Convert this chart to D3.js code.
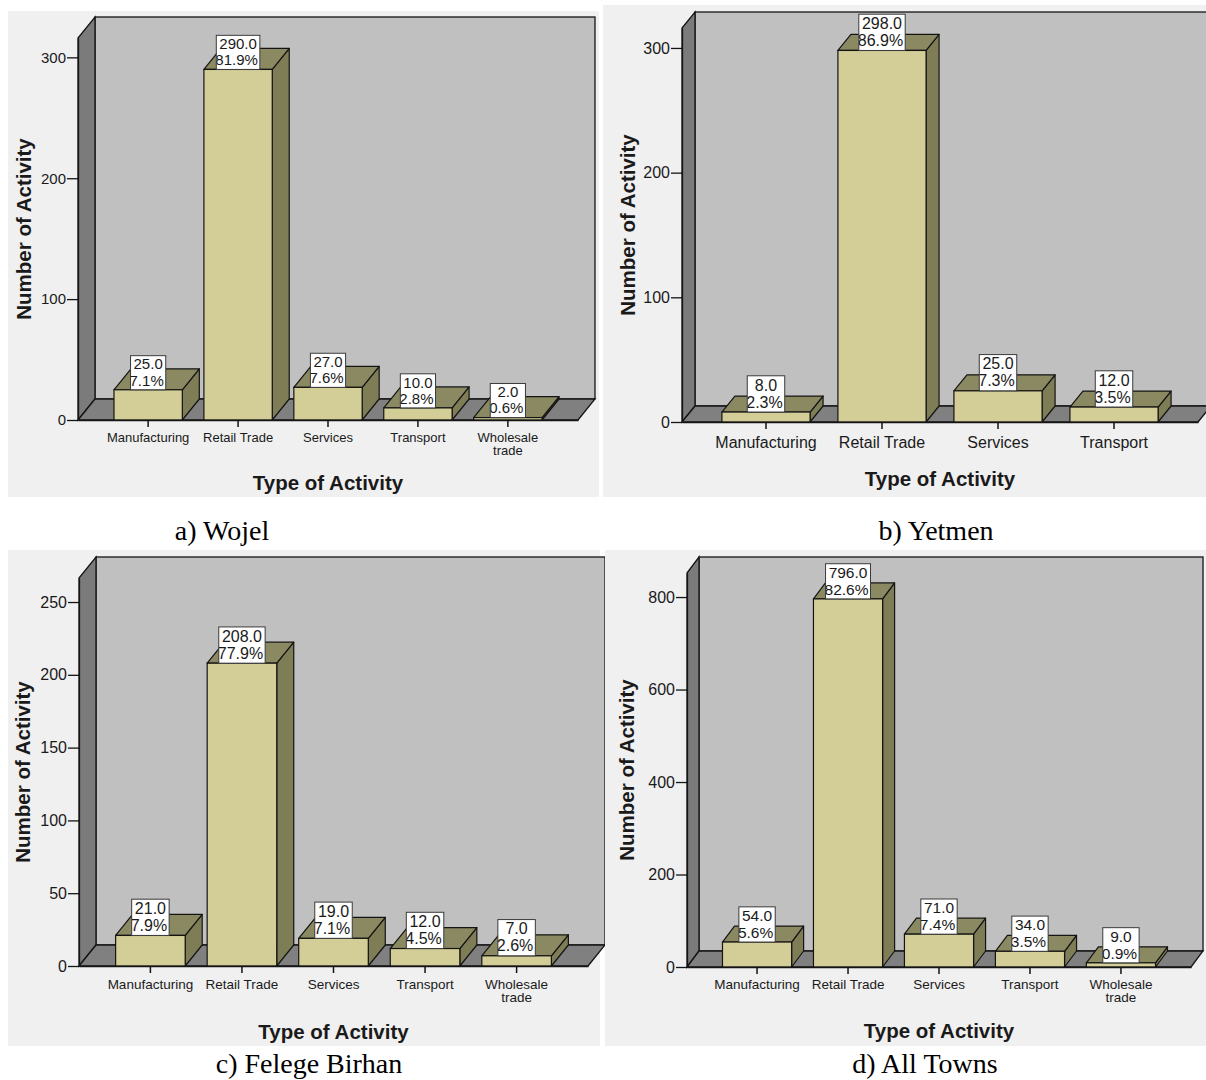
<!DOCTYPE html>
<html>
<head>
<meta charset="utf-8">
<script src="https://cdn.jsdelivr.net/npm/d3@7"></script>
<style>
  body { margin: 0; background: #ffffff; }
  svg { display: block; }
</style>
</head>
<body>
<svg id="fig" width="1206" height="1080"></svg>
<script>
// ---- data -------------------------------------------------------------
const categories = ["Manufacturing", "Retail Trade", "Services", "Transport", "Wholesale\ntrade"];
const yetmenCategories = ["Manufacturing", "Retail Trade", "Services", "Transport"];

const wojelCounts  = [25, 290, 27, 10, 2];
const wojelPct     = [7.1, 81.9, 7.6, 2.8, 0.6];
const yetmenCounts = [8, 298, 25, 12];
const yetmenPct    = [2.3, 86.9, 7.3, 3.5];
const felegeCounts = [21, 208, 19, 12, 7];
const felegePct    = [7.9, 77.9, 7.1, 4.5, 2.6];
const allCounts    = [54, 796, 71, 34, 9];
const allPct       = [5.6, 82.6, 7.4, 3.5, 0.9];

const wojelTicks  = [0, 100, 200, 300];
const yetmenTicks = [0, 100, 200, 300];
const felegeTicks = [0, 50, 100, 150, 200, 250];
const allTicks    = [0, 200, 400, 600, 800];

const xTitle = "Type of Activity";
const yTitle = "Number of Activity";

const panels = [
  { id: "a", cats: categories,       counts: wojelCounts,  pct: wojelPct,  ticks: wojelTicks,  caption: "a) Wojel" },
  { id: "b", cats: yetmenCategories, counts: yetmenCounts, pct: yetmenPct, ticks: yetmenTicks, caption: "b) Yetmen" },
  { id: "c", cats: categories,       counts: felegeCounts, pct: felegePct, ticks: felegeTicks, caption: "c) Felege Birhan" },
  { id: "d", cats: categories,       counts: allCounts,    pct: allPct,    ticks: allTicks,    caption: "d) All Towns" }
];

// ---- layout of each chart ---------------------------------------------
const layout = {
  a: { bg: [8, 11, 591, 486],  x0: 78,  x1: 578,  y0: 420, yTop: 38,  yMax: 316,  dx: 17, dy: 21, po: 0.40,
       yTickFont: 15, xTickFont: 13,   labelFont: 15,   xLabelBase: 22, yTitleX: 31,  xTitleY: 490,
       capX: 222, capY: 540 },
  b: { bg: [603, 5, 603, 492], x0: 682, x1: 1198, y0: 422, yTop: 28,  yMax: 316,  dx: 13, dy: 16, po: 0.344,
       yTickFont: 16, xTickFont: 16,   labelFont: 16,   xLabelBase: 26, yTitleX: 635, xTitleY: 486,
       capX: 936, capY: 540 },
  c: { bg: [8, 550, 592, 496], x0: 79,  x1: 588,  y0: 966, yTop: 578, yMax: 266.5, dx: 17, dy: 21, po: 0.40,
       yTickFont: 16, xTickFont: 13.5, labelFont: 16,   xLabelBase: 23, yTitleX: 30,  xTitleY: 1039,
       capX: 309, capY: 1073 },
  d: { bg: [605, 550, 601, 496], x0: 687, x1: 1191, y0: 967, yTop: 573, yMax: 852, dx: 12, dy: 16, po: 0.39,
       yTickFont: 16, xTickFont: 13.5, labelFont: 15.5, xLabelBase: 22, yTitleX: 634, xTitleY: 1038,
       capX: 925, capY: 1073 }
};

const colors = {
  panel: "#f0f0f0", backWall: "#c0c0c0", sideWall: "#7b7b7b", floor: "#808080",
  barFront: "#d3ce97", barTop: "#8b8961", barSide: "#7f7d56", edge: "#141414", ink: "#1a1a1a"
};
const sans = "'Liberation Sans', Arial, Helvetica, sans-serif";
const serif = "'Liberation Serif', 'Times New Roman', Times, serif";

const svg = d3.select("#fig");
const defs = svg.append("defs");

// hidden text used to measure label widths
const measurer = svg.append("text").attr("font-family", sans).attr("visibility", "hidden");
function textWidth(str, size) {
  measurer.attr("font-size", size).text(str);
  return measurer.node().getComputedTextLength();
}

let clipCount = 0;

function drawPanel(p, L) {
  const g = svg.append("g").attr("class", "panel-" + p.id);
  const { dx, dy } = L;

  g.append("rect")
    .attr("x", L.bg[0]).attr("y", L.bg[1]).attr("width", L.bg[2]).attr("height", L.bg[3])
    .attr("fill", colors.panel);

  const x = d3.scaleBand().domain(p.cats).range([L.x0, L.x1])
    .paddingInner(0.24).paddingOuter(L.po);
  const y = d3.scaleLinear().domain([0, L.yMax]).range([L.y0, L.yTop]);
  const y0 = y(0), yT = y(L.yMax);
  const bw = x.bandwidth();

  // back wall, left wall and floor of the 3D frame
  g.append("rect")
    .attr("x", L.x0 + dx).attr("y", yT - dy)
    .attr("width", L.x1 - L.x0).attr("height", y0 - yT)
    .attr("fill", colors.backWall).attr("stroke", colors.edge).attr("stroke-width", 1.3);
  g.append("path")
    .attr("d", `M${L.x0},${y0}L${L.x0},${yT}L${L.x0 + dx},${yT - dy}L${L.x0 + dx},${y0 - dy}Z`)
    .attr("fill", colors.sideWall).attr("stroke", colors.edge).attr("stroke-width", 1.3);
  g.append("path")
    .attr("d", `M${L.x0},${y0}L${L.x0 + dx},${y0 - dy}L${L.x1 + dx},${y0 - dy}L${L.x1},${y0}Z`)
    .attr("fill", colors.floor).attr("stroke", colors.edge).attr("stroke-width", 1.3);

  // 3D bars
  const rows = p.cats.map((c, i) => ({ cat: c, count: p.counts[i], pct: p.pct[i] }));
  const bars = g.append("g").selectAll("g").data(rows).join("g");
  bars.append("path")
    .attr("d", d => {
      const xl = x(d.cat), xr = xl + bw, yv = y(d.count);
      return `M${xr},${yv}L${xr + dx},${yv - dy}L${xr + dx},${y0 - dy}L${xr},${y0}Z`;
    })
    .attr("fill", colors.barSide).attr("stroke", colors.edge).attr("stroke-width", 1.2)
    .attr("stroke-linejoin", "round");
  bars.append("path")
    .attr("d", d => {
      const xl = x(d.cat), xr = xl + bw, yv = y(d.count);
      return `M${xl},${yv}L${xl + dx},${yv - dy}L${xr + dx},${yv - dy}L${xr},${yv}Z`;
    })
    .attr("fill", colors.barTop).attr("stroke", colors.edge).attr("stroke-width", 1.2)
    .attr("stroke-linejoin", "round");
  bars.append("rect")
    .attr("x", d => x(d.cat)).attr("y", d => y(d.count))
    .attr("width", bw).attr("height", d => y0 - y(d.count))
    .attr("fill", colors.barFront).attr("stroke", colors.edge).attr("stroke-width", 1.2);

  // axes
  const yAxis = g.append("g").attr("transform", `translate(${L.x0},0)`)
    .call(d3.axisLeft(y).tickValues(p.ticks).tickSize(11).tickPadding(1).tickSizeOuter(0));
  yAxis.select(".domain").attr("stroke", colors.edge).attr("stroke-width", 1.3);
  yAxis.selectAll(".tick line").attr("stroke", colors.edge).attr("stroke-width", 1.3);
  yAxis.selectAll(".tick text")
    .attr("font-family", sans).attr("font-size", L.yTickFont).attr("fill", colors.ink);

  const xAxis = g.append("g").attr("transform", `translate(0,${y0})`)
    .call(d3.axisBottom(x).tickSize(7).tickSizeOuter(0));
  xAxis.select(".domain").attr("stroke", colors.edge).attr("stroke-width", 1.3);
  xAxis.selectAll(".tick line").attr("stroke", colors.edge).attr("stroke-width", 1.5);
  xAxis.selectAll(".tick text")
    .attr("font-family", sans).attr("font-size", L.xTickFont).attr("fill", colors.ink)
    .attr("y", L.xLabelBase).attr("dy", null)
    .each(function (d) {
      const t = d3.select(this).text(null);
      d.split("\n").forEach((line, k) => {
        t.append("tspan").attr("x", 0).attr("y", L.xLabelBase + k * L.xTickFont * 0.98).text(line);
      });
    });

  // axis titles
  g.append("text")
    .attr("transform", `translate(${L.yTitleX},${(y0 + yT) / 2}) rotate(-90)`)
    .attr("text-anchor", "middle").attr("font-family", sans).attr("font-weight", "bold")
    .attr("font-size", 20.5).attr("fill", colors.ink).text(yTitle);
  g.append("text")
    .attr("x", (L.x0 + L.x1) / 2).attr("y", L.xTitleY)
    .attr("text-anchor", "middle").attr("font-family", sans).attr("font-weight", "bold")
    .attr("font-size", 20.5).attr("fill", colors.ink).text(xTitle);

  // value labels: count and percentage in a white box on top of each bar
  const lf = L.labelFont, lh = lf * 1.07;
  rows.forEach(d => {
    const l1 = d.count.toFixed(1), l2 = d.pct.toFixed(1) + "%";
    const wMax = Math.max(textWidth(l1, lf), textWidth(l2, lf));
    const w = wMax + 1;
    const h = 2 * lh + 2;
    const cx = x(d.cat) + bw / 2;
    const bx = cx - w / 2, by = y(d.count) - h;
    const id = "lblclip" + (clipCount++);
    defs.append("clipPath").attr("id", id)
      .append("rect").attr("x", bx).attr("y", by).attr("width", w).attr("height", h);
    const lg = g.append("g");
    lg.append("rect").attr("x", bx).attr("y", by).attr("width", w).attr("height", h).attr("fill", "#ffffff");
    const tg = lg.append("g").attr("clip-path", `url(#${id})`)
      .attr("font-family", sans).attr("font-size", lf).attr("fill", colors.ink);
    tg.append("text").attr("x", cx).attr("y", by + lf * 0.92).attr("text-anchor", "middle").text(l1);
    tg.append("text").attr("x", bx + w - 2).attr("y", by + lf * 0.92 + lh).attr("text-anchor", "end").text(l2);
    lg.append("rect").attr("x", bx).attr("y", by).attr("width", w).attr("height", h)
      .attr("fill", "none").attr("stroke", "#3a3a3a").attr("stroke-width", 1);
  });

  // caption under the chart
  svg.append("text")
    .attr("x", L.capX).attr("y", L.capY).attr("text-anchor", "middle")
    .attr("font-family", serif).attr("font-size", 28).attr("fill", "#000")
    .text(p.caption);
}

panels.forEach(p => drawPanel(p, layout[p.id]));
measurer.remove();
</script>
</body>
</html>
